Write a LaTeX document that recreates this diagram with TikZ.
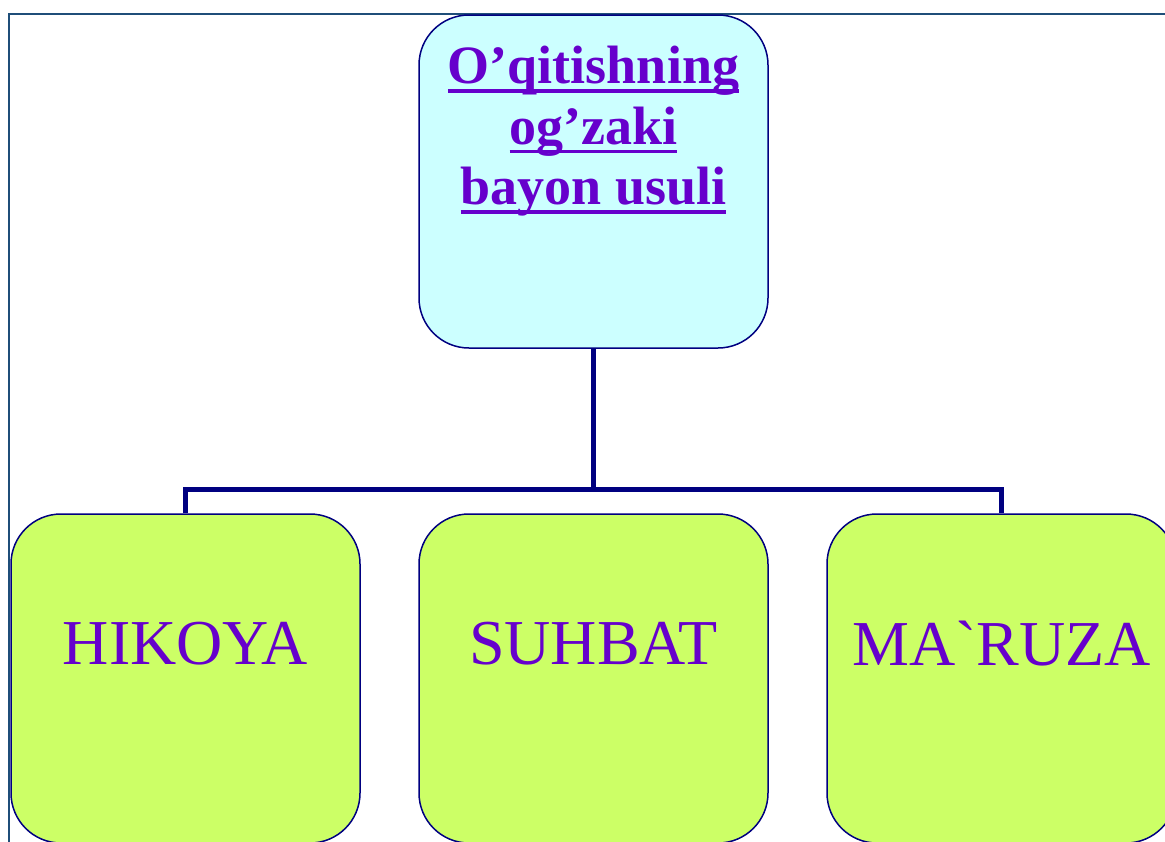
\documentclass[tikz,border=0pt]{standalone}
\usepackage{fontspec}
\setmainfont{Liberation Serif}
\newfontfamily\plainserif{Liberation Serif}
\definecolor{framec}{HTML}{1F4E79}
\definecolor{navyc}{HTML}{000080}
\definecolor{txtc}{HTML}{6600CC}
\definecolor{cyanf}{HTML}{CCFFFF}
\definecolor{greenf}{HTML}{CCFF66}
\newcommand{\myul}[1]{\setbox0\hbox{#1}\rlap{\rule[-9pt]{\wd0}{3.6pt}}\box0}
\tikzset{
  box/.style={draw=navyc, line width=1.5pt, rounded corners=50pt, inner sep=0pt},
  topbox/.style={box, fill=cyanf, minimum width=349pt, minimum height=333pt},
  botbox/.style={box, fill=greenf, minimum width=349pt, minimum height=329pt},
  conn/.style={draw=navyc, line width=5pt, line join=miter},
  lbl/.style={text=txtc, font=\plainserif\fontsize{64pt}{70pt}\selectfont, inner sep=0pt},
  ttl/.style={text=txtc, font=\fontsize{54pt}{60.5pt}\selectfont\bfseries, align=center, inner sep=0pt}
}
\begin{document}
\begin{tikzpicture}[x=1pt,y=-1pt]
\useasboundingbox (0,0) rectangle (1165,841);
\clip (0,0) rectangle (1165,841);
\draw[draw=framec, line width=1.6pt] (1200,14) -- (9,14) -- (9,900);
\node[topbox] (top) at (593.5,181.5) {};
\node[botbox] (b1) at (185.5,678.5) {};
\node[botbox] (b2) at (593.5,678.5) {};
\node[botbox] (b3) at (1001.5,678.5) {};
\coordinate (j) at (593.5,489);
\draw[conn] (top.south) -- (j);
\draw[conn] (b1.north) |- (j) -| (b3.north);
\node[ttl, anchor=north] (title) at (593.5,46) {\myul{O’qitishning}\\\myul{og’zaki}\\\myul{bayon usuli}};
\node[lbl] (t1) at (185.5,644) {HIKOYA};
\node[lbl] (t2) at (593.5,644) {SUHBAT};
\node[lbl] (t3) at (1001.5,644) {MA`RUZA};
\end{tikzpicture}
\end{document}
